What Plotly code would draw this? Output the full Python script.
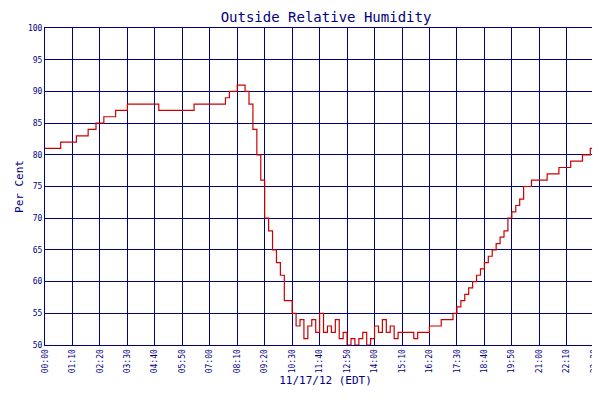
import plotly.graph_objects as go

minutes = list(range(0, 1440, 10))
humidity = (
    [81] * 4 + [82] * 4 + [83] * 3 + [84] * 2 + [85] * 2 + [86] * 3 + [87] * 3
    + [88] * 8 + [87] * 9 + [88] * 8
    + [89, 90, 90, 91, 91, 90, 88, 84, 80, 76, 70, 68, 65, 63, 61, 57, 57, 55,
       53, 54, 51, 53, 54, 52, 55, 52, 53, 52, 54, 51, 52, 50, 51, 50, 51, 52,
       50, 51, 53, 52, 54, 52, 53, 51]
    + [52, 52, 52, 52, 51, 52, 52, 52] + [53] * 3 + [54] * 3
    + [55, 56, 57, 58, 59, 60, 61, 62, 63, 64, 65, 66, 67, 68, 70, 71, 72, 73]
    + [75, 75, 76] + [76] * 3 + [77] * 3 + [78] * 3 + [79] * 3 + [80] * 2
    + [81] * 3 + [82] * 2
)
tick_vals = list(range(0, 1410, 70)) + [1430]
tick_text = [f"{t // 60:02d}:{t % 60:02d}" for t in tick_vals]

navy = "#000080"
font = "DejaVu Sans Mono"

fig = go.Figure(go.Scatter(
    x=minutes, y=humidity, mode="lines", line=dict(color="#cc0000", width=1.2, shape="hv"),
    name="Relative Humidity",
))

fig.update_layout(
    width=600, height=400,
    paper_bgcolor="white", plot_bgcolor="white",
    margin=dict(l=37, r=2, t=20, b=63, autoexpand=False),
    title=dict(text="Outside Relative Humidity", x=0.53, y=0.99, yanchor="top",
               font=dict(family=font, size=14, color=navy)),
    font=dict(family=font, color=navy),
    showlegend=True,
    legend=dict(orientation="h", x=0.5, xanchor="center", y=-0.27, yanchor="top",
                font=dict(size=8, color=navy)),
)
fig.update_xaxes(
    range=[0, 1430], tickvals=tick_vals, ticktext=tick_text, tickangle=-90,
    tickfont=dict(size=8, color=navy), showgrid=True, gridcolor=navy, gridwidth=1,
    showline=True, linecolor=navy, linewidth=1, mirror=True, zeroline=False,
    automargin=False,
    title=dict(text="11/17/12 (EDT)", font=dict(size=11, color=navy), standoff=4),
)
fig.update_yaxes(
    range=[50, 100], dtick=5, tickfont=dict(size=8, color=navy),
    showgrid=True, gridcolor=navy, gridwidth=1,
    showline=True, linecolor=navy, linewidth=1, mirror=True, zeroline=False,
    automargin=False,
    title=dict(text="Per Cent", font=dict(size=11, color=navy), standoff=2),
)

fig.write_html("out.html")
